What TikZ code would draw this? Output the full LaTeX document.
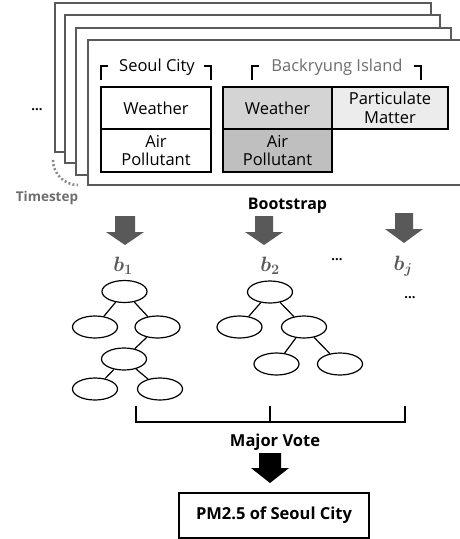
\documentclass[tikz,border=0pt]{standalone}
\usepackage{amsmath,amssymb}
\usepackage[no-math]{fontspec}
\setmainfont{Open Sans}
\usetikzlibrary{shapes.geometric}
\definecolor{framegray}{HTML}{5A5A5A}
\definecolor{arrowgray}{HTML}{595959}
\definecolor{labelgray}{HTML}{6E6E6E}
\definecolor{cellA}{HTML}{D4D4D4}
\definecolor{cellB}{HTML}{ECECEC}
\definecolor{cellC}{HTML}{BFBFBF}
\tikzset{
  frame/.style={draw=framegray,fill=white,line width=2.2pt},
  cell/.style={draw=black,line width=1.3pt,align=center,inner sep=0pt,
    minimum width=110pt,minimum height=42pt,
    font=\fontsize{16.5}{18.5}\selectfont},
  hdr/.style={font=\fontsize{16.5}{19}\selectfont,inner sep=0pt},
  brk/.style={line width=1.5pt},
  treenode/.style={ellipse,draw=black,line width=1.2pt,minimum width=45pt,minimum height=22pt,inner sep=0pt},
  treeedge/.style={line width=1.2pt},
  blabel/.style={text=arrowgray,inner sep=0pt,font=\fontsize{22}{24}\selectfont},
  boldlabel/.style={font=\bfseries\fontsize{16}{18}\selectfont,inner sep=0pt},
  dots/.style={font=\bfseries\fontsize{13}{13}\selectfont,inner sep=0pt},
  votebar/.style={line width=2pt,line cap=rect},
  pics/bigarrow/.style n args={5}{code={
    \fill[#1] (-#2,0) -- (-#2,#4) -- (-#3,#4) -- (0,#5) -- (#3,#4) -- (#2,#4) -- (#2,0) -- cycle;}}
}
\begin{document}
\begin{tikzpicture}[x=1pt,y=-1pt]
\useasboundingbox (0,0) rectangle (460,539);
\clip (0,0) rectangle (460,539);
% stacked timestep frames
\draw[frame] (55,3) rectangle (431,152);
\draw[frame] (65,15) rectangle (440,163);
\draw[frame] (76,28) rectangle (451,175);
\draw[frame] (88,40) rectangle (472,185);
% left dots
\node[dots] (ldots) at (37,110) {...};
% timestep arc
\draw[labelgray!80,line width=2.6pt,dash pattern=on 2pt off 2.2pt] (53,160) arc[start angle=180,end angle=90,radius=25];
\node[boldlabel,text=labelgray,font=\bfseries\fontsize{13.5}{16}\selectfont] (timestep) at (47,198) {Timestep};
% headers
\node[hdr] (seoul) at (157,67) {Seoul City};
\draw[brk] (101,80) -- (101,66) -- (108,66);
\draw[brk] (204,66) -- (211,66) -- (211,80);
\node[hdr,text=labelgray] (backryung) at (337,67) {Backryung Island};
\draw[brk] (252,80) -- (252,66) -- (259,66);
\draw[brk] (414,66) -- (421,66) -- (421,80);
% tables
\node[cell,fill=white] (sw) at (156,108) {Weather};
\node[cell,fill=white,minimum height=43pt] (sa) at (156,150.5) {Air\\Pollutant};
\node[cell,fill=cellA,minimum width=109pt] (bw) at (277.5,108) {Weather};
\node[cell,fill=cellB,minimum width=116pt] (bp) at (390,108) {Particulate\\Matter};
\node[cell,fill=cellC,minimum width=109pt,minimum height=43pt] (ba) at (277.5,150.5) {Air\\Pollutant};
% bootstrap
\node[boldlabel] (boot) at (287.5,206) {Bootstrap};
\pic at (125,216) {bigarrow={arrowgray}{10}{19}{16}{29}};
\pic at (264,216) {bigarrow={arrowgray}{9}{19}{16}{29}};
\pic at (404,213) {bigarrow={arrowgray}{9}{19}{16}{30}};
\node[blabel] (b1) at (123,266) {$\boldsymbol{b}_{\mathbf{1}}$};
\node[blabel] (b2) at (270,266) {$\boldsymbol{b}_{\mathbf{2}}$};
\node[blabel] (bj) at (403,266) {$\boldsymbol{b}_{\boldsymbol{j}}$};
\node[dots] (mdots) at (337,260) {...};
\node[dots] (rdots) at (410,298) {...};
% tree 1
\node[treenode] (r1) at (124.5,291.5) {};
\node[treenode] (a1) at (95,327) {};
\node[treenode] (c1) at (157.5,327) {};
\node[treenode] (d1) at (124,359) {};
\node[treenode] (e1) at (95,389) {};
\node[treenode] (f1) at (160,389) {};
\draw[treeedge] (r1) -- (a1);
\draw[treeedge] (r1) -- (c1);
\draw[treeedge] (c1) -- (d1);
\draw[treeedge] (d1) -- (e1);
\draw[treeedge] (d1) -- (f1);
% tree 2
\node[treenode] (r2) at (270,292) {};
\node[treenode] (a2) at (239.5,327) {};
\node[treenode] (c2) at (304,327) {};
\node[treenode] (d2) at (276.5,364) {};
\node[treenode] (e2) at (340,364) {};
\draw[treeedge] (r2) -- (a2);
\draw[treeedge] (r2) -- (c2);
\draw[treeedge] (c2) -- (d2);
\draw[treeedge] (c2) -- (e2);
% vote bracket
\coordinate (vl) at (136,422);
\coordinate (vm) at (270,422);
\coordinate (vr) at (405,422);
\coordinate (vlt) at (136,407);
\coordinate (vmt) at (270,407);
\coordinate (vrt) at (405,407);
\draw[votebar] (vlt) -- (vl) -- (vr) -- (vrt);
\draw[votebar] (vmt) -- (vm);
\node[boldlabel,font=\bfseries\fontsize{16.5}{19}\selectfont] (vote) at (275,442) {Major Vote};
\pic at (270,453) {bigarrow={black}{11}{19}{15}{30}};
\node[draw=black,line width=1.5pt,minimum width=190pt,minimum height=45pt,inner sep=0pt,
  font=\bfseries\fontsize{16.5}{19}\selectfont] (pm) at (274,515.5) {PM2.5 of Seoul City};
\end{tikzpicture}
\end{document}
